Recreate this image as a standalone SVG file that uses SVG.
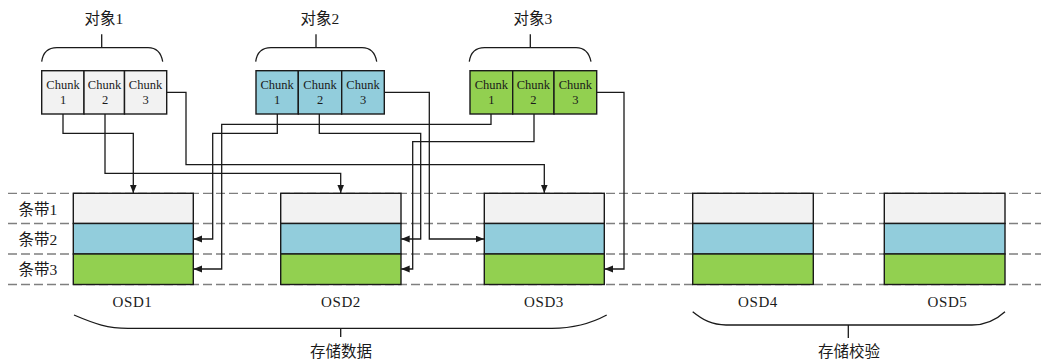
<svg xmlns="http://www.w3.org/2000/svg" width="1043" height="362" viewBox="0 0 1043 362">
<style>
text{font-family:"Liberation Serif","Noto Sans CJK SC",serif;fill:#1a1a1a;text-anchor:middle}
.lbl{font-size:15.5px}
.chk{font-size:12.5px}
.osd{font-size:15px;letter-spacing:0.6px}
.cn{font-size:15.5px}
.dash{stroke:#7f7f7f;stroke-width:1.3;stroke-dasharray:9 4;fill:none}
.box{stroke:#1a1a1a;stroke-width:1.4}
.g{fill:#f2f2f2}.b{fill:#92cddc}.gr{fill:#92d050}
.br{fill:none;stroke:#1a1a1a;stroke-width:1.3}
.con{fill:none;stroke:#1a1a1a;stroke-width:1.3}
</style>
<defs>
<marker id="ah" markerUnits="userSpaceOnUse" markerWidth="9" markerHeight="8" refX="8.5" refY="3.5" orient="auto">
<path d="M0,0 L8.5,3.5 L0,7 z" fill="#1a1a1a"/>
</marker>
</defs>
<g id="stripe-lines">
<line class="dash" x1="8" y1="193.3" x2="1041" y2="193.3"/>
<line class="dash" x1="8" y1="223.5" x2="1041" y2="223.5"/>
<line class="dash" x1="8" y1="254" x2="1041" y2="254"/>
<line class="dash" x1="8" y1="284.5" x2="1041" y2="284.5"/>
</g>
<g id="stripe-labels">
<text class="cn" x="38" y="214.5">条带1</text>
<text class="cn" x="38" y="244.5">条带2</text>
<text class="cn" x="38" y="274.5">条带3</text>
</g>
<g id="obj1">
<text class="lbl" x="104" y="23.5">对象1</text>
<path class="br" d="M41.7,61.7 C43,52 48,47.7 57,47.7 H148 C156,47.7 161,52 162.7,61.7 M101.7,47.7 V34.3"/>
<rect class="box g" x="41.7" y="70.7" width="42.3" height="43.3"/>
<rect class="box g" x="84" y="70.7" width="40.5" height="43.3"/>
<rect class="box g" x="124.5" y="70.7" width="42.2" height="43.3"/>
<text class="chk" x="63" y="88.5">Chunk</text><text class="chk" x="63" y="104">1</text>
<text class="chk" x="104.5" y="88.5">Chunk</text><text class="chk" x="105" y="104">2</text>
<text class="chk" x="145.5" y="88.5">Chunk</text><text class="chk" x="145.5" y="104">3</text>
</g>
<g id="obj2">
<text class="lbl" x="320" y="23.5">对象2</text>
<path class="br" d="M255.7,61.7 C257,52 262,47.7 271,47.7 H362 C370,47.7 375,52 376.7,61.7 M316,47.7 V34.3"/>
<rect class="box b" x="256" y="70.7" width="42.3" height="43.3"/>
<rect class="box b" x="298.3" y="70.7" width="43.4" height="43.3"/>
<rect class="box b" x="341.7" y="70.7" width="42.6" height="43.3"/>
<text class="chk" x="277.2" y="88.5">Chunk</text><text class="chk" x="277.2" y="104">1</text>
<text class="chk" x="320" y="88.5">Chunk</text><text class="chk" x="320" y="104">2</text>
<text class="chk" x="363" y="88.5">Chunk</text><text class="chk" x="363" y="104">3</text>
</g>
<g id="obj3">
<text class="lbl" x="533" y="23.5">对象3</text>
<path class="br" d="M469.3,61.7 C470.6,52 475.6,47.7 484.6,47.7 H576 C584,47.7 589,52 591,61.7 M530.3,47.7 V34.3"/>
<rect class="box gr" x="470" y="70.7" width="42.7" height="43.3"/>
<rect class="box gr" x="512.7" y="70.7" width="41.3" height="43.3"/>
<rect class="box gr" x="554" y="70.7" width="42.7" height="43.3"/>
<text class="chk" x="491.3" y="88.5">Chunk</text><text class="chk" x="491.3" y="104">1</text>
<text class="chk" x="533.3" y="88.5">Chunk</text><text class="chk" x="533.3" y="104">2</text>
<text class="chk" x="575.3" y="88.5">Chunk</text><text class="chk" x="575.3" y="104">3</text>
</g>
<g id="osd1">
<rect class="box g" x="73.3" y="193.3" width="120" height="30.2"/>
<rect class="box b" x="73.3" y="223.5" width="120" height="30.5"/>
<rect class="box gr" x="73.3" y="254" width="120" height="30.5"/>
<text class="osd" x="132.5" y="307">OSD1</text>
</g>
<g id="osd2">
<rect class="box g" x="280.7" y="193.3" width="120.3" height="30.2"/>
<rect class="box b" x="280.7" y="223.5" width="120.3" height="30.5"/>
<rect class="box gr" x="280.7" y="254" width="120.3" height="30.5"/>
<text class="osd" x="341" y="307">OSD2</text>
</g>
<g id="osd3">
<rect class="box g" x="484.3" y="193.3" width="120" height="30.2"/>
<rect class="box b" x="484.3" y="223.5" width="120" height="30.5"/>
<rect class="box gr" x="484.3" y="254" width="120" height="30.5"/>
<text class="osd" x="544" y="307">OSD3</text>
</g>
<g id="osd4">
<rect class="box g" x="692.7" y="193.3" width="120.6" height="30.2"/>
<rect class="box b" x="692.7" y="223.5" width="120.6" height="30.5"/>
<rect class="box gr" x="692.7" y="254" width="120.6" height="30.5"/>
<text class="osd" x="758" y="307">OSD4</text>
</g>
<g id="osd5">
<rect class="box g" x="884.3" y="193.3" width="120.7" height="30.2"/>
<rect class="box b" x="884.3" y="223.5" width="120.7" height="30.5"/>
<rect class="box gr" x="884.3" y="254" width="120.7" height="30.5"/>
<text class="osd" x="947.5" y="307">OSD5</text>
</g>
<g id="data-brace">
<path class="br" d="M74,315 C95,324 108,328.3 128,328.3 H552 C572,328.3 590,324 606.7,315 M340.7,328.3 V337"/>
<text class="cn" x="341" y="356.5">存储数据</text>
</g>
<g id="parity-brace">
<path class="br" d="M692.7,311.7 C703,320 712,325 726,325 H972 C986,325 996,320 1005,311.7 M848.3,325 V338"/>
<text class="cn" x="849" y="356.5">存储校验</text>
</g>
<g id="connectors">
<path class="con" marker-end="url(#ah)" d="M63,114 V133.3 H133.3 V193"/>
<path class="con" marker-end="url(#ah)" d="M105,114 V173.3 H340.7 V193"/>
<path class="con" marker-end="url(#ah)" d="M166.7,92.3 H186 V164.7 H544.3 V193"/>
<path class="con" marker-end="url(#ah)" d="M277.3,114 V133.3 H212.7 V239 H193.5"/>
<path class="con" marker-end="url(#ah)" d="M319.3,114 V133.3 H420.7 V239 H401.2"/>
<path class="con" marker-end="url(#ah)" d="M384.3,92.3 H429.3 V239 H484"/>
<path class="con" marker-end="url(#ah)" d="M491,114 V124.3 H221.7 V269 H193.5"/>
<path class="con" marker-end="url(#ah)" d="M534,114 V141.7 H412.7 V269 H401.2"/>
<path class="con" marker-end="url(#ah)" d="M596.7,92.3 H624 V269 H604.5"/>
</g>
</svg>
